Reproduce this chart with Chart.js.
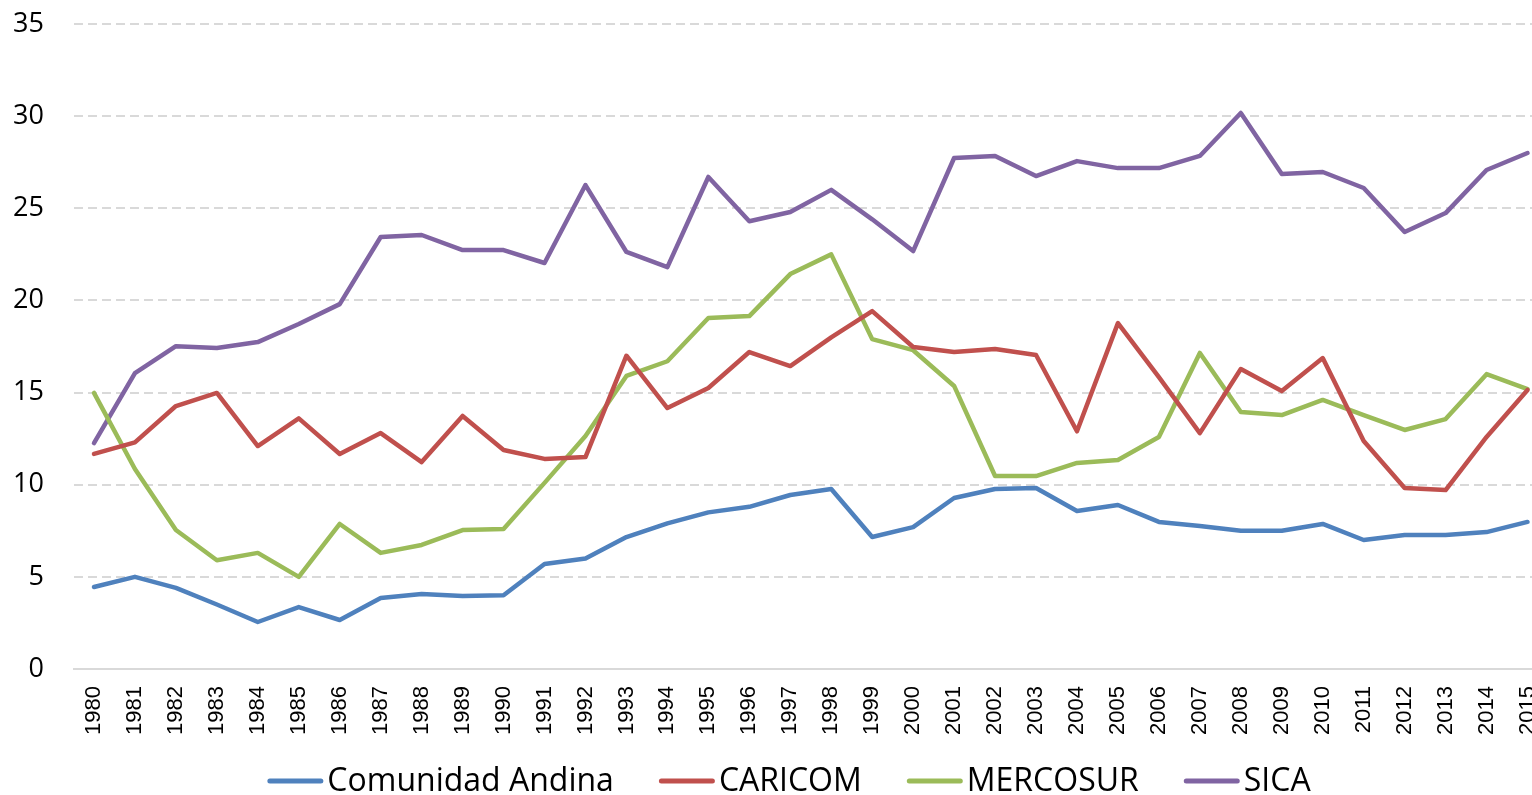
<!DOCTYPE html>
<html>
<head>
<meta charset="utf-8">
<script src="https://cdn.jsdelivr.net/npm/chart.js@4.4.1/dist/chart.umd.min.js"></script>
<style>
  html, body { margin: 0; padding: 0; background: #fff; overflow: hidden; }
  canvas { display: block; }
</style>
</head>
<body>
<canvas id="chart" width="1550" height="795"></canvas>
<script>
const years = [];
for (let y = 1980; y <= 2015; y++) years.push(String(y));

const comunidadAndina = [4.45, 5.0, 4.4, 3.5, 2.55, 3.36, 2.66, 3.85, 4.07, 3.96, 4.0, 5.7, 6.0, 7.16, 7.9, 8.5, 8.8, 9.44, 9.77, 7.16,
  7.7, 9.28, 9.77, 9.82, 8.57, 8.9, 7.98, 7.76, 7.5, 7.5, 7.87, 7.0, 7.27, 7.27, 7.43, 7.98];
const caricom = [11.67, 12.3, 14.27, 14.98, 12.1, 13.6, 11.67, 12.8, 11.23, 13.73, 11.88, 11.4, 11.5, 17.0, 14.16, 15.25, 17.2, 16.44, 18.0, 19.42,
  17.47, 17.2, 17.36, 17.04, 12.9, 18.77, 15.84, 12.8, 16.28, 15.08, 16.87, 12.37, 9.82, 9.71, 12.59, 15.14];
const mercosur = [14.98, 10.85, 7.54, 5.9, 6.3, 5.0, 7.87, 6.3, 6.73, 7.54, 7.6, 10.1, 12.64, 15.9, 16.7, 19.05, 19.15, 21.43, 22.5, 17.9,
  17.3, 15.36, 10.47, 10.47, 11.18, 11.34, 12.59, 17.15, 13.95, 13.78, 14.6, 13.78, 12.97, 13.56, 16.0, 15.19];
const sica = [12.26, 16.06, 17.52, 17.42, 17.74, 18.72, 19.8, 23.44, 23.55, 22.73, 22.73, 22.03, 26.26, 22.63, 21.81, 26.7, 24.3, 24.8, 26.0, 24.4,
  22.68, 27.73, 27.84, 26.75, 27.56, 27.18, 27.18, 27.84, 30.17, 26.86, 26.97, 26.1, 23.71, 24.74, 27.08, 28.0];

const yTicks = [0, 5, 10, 15, 20, 25, 30, 35];

function series(label, data, color) {
  return {
    label: label,
    data: data,
    borderColor: color,
    backgroundColor: color,
    borderWidth: 4.5,
    pointRadius: 0,
    tension: 0,
    borderJoinStyle: 'round',
    borderCapStyle: 'round'
  };
}

// legend drawn under the plot, line sample close to the text like the original
const bottomLegend = {
  id: 'bottomLegend',
  afterDraw(chart) {
    const ctx = chart.ctx;
    const lineW = 56, textGap = 4, itemGap = 45, center = 789;
    ctx.save();
    ctx.font = '32px "Open Sans"';
    const items = chart.data.datasets.map(ds => ({ ds: ds, w: ctx.measureText(ds.label).width }));
    const total = items.reduce((s, it) => s + lineW + textGap + it.w, 0) + itemGap * (items.length - 1);
    let x = center - total / 2;
    items.forEach(it => {
      ctx.strokeStyle = it.ds.borderColor;
      ctx.lineWidth = 5;
      ctx.lineCap = 'round';
      ctx.beginPath();
      ctx.moveTo(x + 2.5, 781);
      ctx.lineTo(x + lineW - 2.5, 781);
      ctx.stroke();
      ctx.fillStyle = '#000';
      ctx.textBaseline = 'alphabetic';
      ctx.fillText(it.ds.label, x + lineW + textGap, 791);
      x += lineW + textGap + it.w + itemGap;
    });
    ctx.restore();
  }
};

new Chart(document.getElementById('chart'), {
  type: 'line',
  data: {
    labels: years,
    datasets: [
      series('Comunidad Andina', comunidadAndina, '#4F81BD'),
      series('CARICOM', caricom, '#C0504D'),
      series('MERCOSUR', mercosur, '#9BBB59'),
      series('SICA', sica, '#8064A2')
    ]
  },
  plugins: [bottomLegend],
  options: {
    responsive: false,
    animation: false,
    layout: { padding: { left: 0, right: 2, top: 24, bottom: 60 } },
    plugins: {
      tooltip: { enabled: false },
      legend: { display: false }
    },
    scales: {
      x: {
        offset: true,
        afterFit(scale) {
          scale.height = 66;
          scale.paddingLeft = 0;
          scale.paddingRight = 0;
        },
        grid: { display: false },
        border: { display: true, color: '#d9d9d9', width: 2 },
        ticks: {
          maxRotation: 90,
          minRotation: 90,
          autoSkip: false,
          color: '#000',
          padding: 9,
          font: { family: '"Liberation Sans", Arial, sans-serif', size: 22 }
        }
      },
      y: {
        min: 0,
        max: 35,
        afterBuildTicks(scale) {
          scale.ticks = yTicks.map(v => ({ value: v }));
        },
        afterFit(scale) {
          scale.width = 73.5;
          scale.paddingTop = 0;
          scale.paddingBottom = 0;
        },
        grid: {
          color: ctx => ctx.tick.value === 0 ? 'rgba(0,0,0,0)' : '#d9d9d9',
          lineWidth: 2,
          drawTicks: false
        },
        border: { display: false, dash: [9, 5] },
        ticks: {
          color: '#000',
          padding: 29.5,
          font: { family: '"Open Sans", sans-serif', size: 27 }
        }
      }
    }
  }
});
</script>
</body>
</html>
